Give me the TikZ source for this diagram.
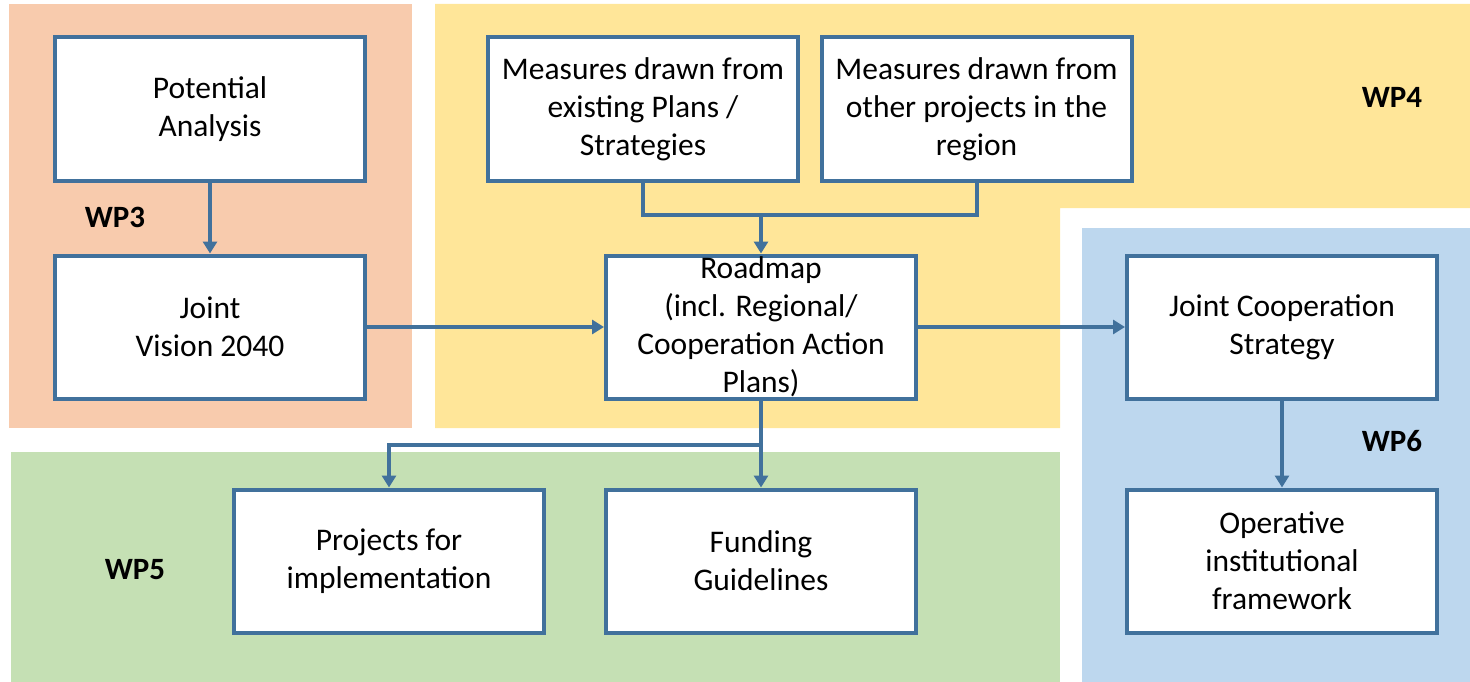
\documentclass[tikz,border=0pt]{standalone}
\usepackage{fontspec}
\setmainfont{Carlito}
\usetikzlibrary{arrows.meta}
\definecolor{wpthree}{HTML}{F8CBAD}
\definecolor{wpfour}{HTML}{FFE699}
\definecolor{wpfive}{HTML}{C5E0B4}
\definecolor{wpsix}{HTML}{BDD7EE}
\definecolor{edgeblue}{HTML}{41719C}
\tikzset{
  box/.style={draw=edgeblue, line width=4pt, fill=white, minimum width=310pt, minimum height=143pt,
    inner sep=0pt, align=center, font=\fontsize{31.5}{38}\selectfont},
  wplabel/.style={font=\fontsize{31}{34}\selectfont\bfseries, inner sep=0pt},
  conn/.style={draw=edgeblue, line width=4pt},
  arr/.style={conn, -{Triangle[width=14pt,length=12pt]}},
}
\begin{document}
\begin{tikzpicture}[x=1pt,y=-1pt]
\useasboundingbox (0,0) rectangle (1470,682);
% backgrounds
\fill[wpthree] (9,4) rectangle (412,428);
\fill[wpfour] (435,4) -- (1470,4) -- (1470,208) -- (1060,208) -- (1060,428) -- (435,428) -- cycle;
\fill[wpsix] (1082,228) rectangle (1470,682);
\fill[wpfive] (11,452) rectangle (1060,682);
% labels
\node[wplabel] (wp3) at (115,217) {WP3};
\node[wplabel] (wp4) at (1392,97) {WP4};
\node[wplabel] (wp5) at (135,570) {WP5};
\node[wplabel] (wp6) at (1392,441) {WP6};
% boxes
\node[box] (pa) at (210,109) {Potential\\Analysis};
\node[box] (jv) at (210,327) {Joint\\Vision 2040};
\node[box] (m1) at (643,109) {Measures drawn from\\existing Plans /\\Strategies};
\node[box] (m2) at (976.5,109) {Measures drawn from\\other projects in the\\region};
\node[box] (rm) at (761,327) {Roadmap\\(incl. Regional/\\Cooperation Action\\Plans)};
\node[box] (jc) at (1282,327) {Joint Cooperation\\Strategy};
\node[box] (op) at (1282,561) {Operative\\institutional\\framework};
\node[box] (pr) at (389,561) {Projects for\\implementation};
\node[box] (fu) at (761,561) {Funding\\Guidelines};
% connectors
\coordinate (mj) at (761,215);
\coordinate (rj) at (761,445);
\draw[arr] (pa.south) -- (jv.north);
\draw[conn] (m1.south) |- (mj);
\draw[conn] (m2.south) |- (mj);
\draw[arr] (mj) -- (rm.north);
\draw[arr] (jv.east) -- (rm.west);
\draw[arr] (rm.east) -- (jc.west);
\draw[conn] (rm.south) -- (rj);
\draw[arr] (rj) -| (pr.north);
\draw[arr] (rj) -- (fu.north);
\draw[arr] (jc.south) -- (op.north);
\end{tikzpicture}
\end{document}
